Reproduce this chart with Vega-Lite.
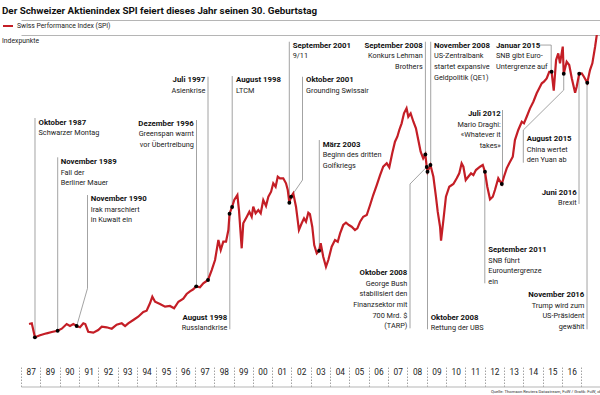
{
  "$schema": "https://vega.github.io/schema/vega-lite/v6.json",
  "width": 579,
  "height": 327.5,
  "autosize": "none",
  "padding": {"left": 21, "top": 35, "right": 0, "bottom": 32.5},
  "background": "white",
  "config": {
    "view": {"stroke": null},
    "font": "Roboto",
    "axis": {"labelFont": "Roboto", "titleFont": "Roboto"},
    "legend": {"labelFont": "Roboto", "titleFont": "Roboto"},
    "title": {"font": "Roboto"},
    "text": {"font": "Roboto"}
  },
  "title": {
    "text": "Der Schweizer Aktienindex SPI feiert dieses Jahr seinen 30. Geburtstag",
    "anchor": "start",
    "frame": "bounds",
    "font": "Roboto",
    "fontSize": 9.8,
    "fontWeight": "bold",
    "color": "#111111",
    "offset": 4.5
  },
  "datasets": {
    "spi": [
      {"t":0.41,"v":1175},{"t":0.55,"v":1197},{"t":0.71,"v":769},{"t":0.97,"v":830},{"t":1.31,"v":891},{"t":1.57,"v":931},{"t":1.87,"v":971},{"t":2.08,"v":1032},{"t":2.33,"v":1175},{"t":2.50,"v":1114},{"t":2.67,"v":1175},{"t":2.84,"v":1114},{"t":3.01,"v":1075},{"t":3.18,"v":1197},{"t":3.28,"v":1175},{"t":3.43,"v":940},{"t":3.69,"v":910},{"t":3.94,"v":992},{"t":4.12,"v":1093},{"t":4.37,"v":1075},{"t":4.63,"v":1032},{"t":4.88,"v":1154},{"t":5.14,"v":1197},{"t":5.31,"v":1114},{"t":5.47,"v":1197},{"t":5.73,"v":1298},{"t":5.98,"v":1398},{"t":6.24,"v":1542},{"t":6.41,"v":1581},{"t":6.58,"v":1807},{"t":6.70,"v":2009},{"t":6.84,"v":1856},{"t":7.09,"v":1786},{"t":7.35,"v":1704},{"t":7.60,"v":1725},{"t":7.81,"v":1655},{"t":8.03,"v":1856},{"t":8.28,"v":1948},{"t":8.45,"v":2091},{"t":8.62,"v":2174},{"t":8.79,"v":2235},{"t":8.94,"v":2326},{"t":9.13,"v":2296},{"t":9.30,"v":2418},{"t":9.54,"v":2519},{"t":9.73,"v":2824},{"t":9.90,"v":3129},{"t":10.07,"v":3740},{"t":10.19,"v":3435},{"t":10.32,"v":3688},{"t":10.46,"v":3688},{"t":10.58,"v":4045},{"t":10.64,"v":4543},{"t":10.77,"v":4748},{"t":10.88,"v":4961},{"t":11.04,"v":5114},{"t":11.12,"v":4656},{"t":11.26,"v":3487},{"t":11.34,"v":4250},{"t":11.52,"v":4451},{"t":11.65,"v":4604},{"t":11.77,"v":4451},{"t":11.85,"v":4757},{"t":11.97,"v":4555},{"t":12.11,"v":4656},{"t":12.23,"v":4555},{"t":12.36,"v":4961},{"t":12.50,"v":4778},{"t":12.62,"v":5062},{"t":12.76,"v":5215},{"t":12.87,"v":5471},{"t":12.99,"v":5367},{"t":13.10,"v":5673},{"t":13.21,"v":5624},{"t":13.38,"v":5624},{"t":13.52,"v":5471},{"t":13.61,"v":5267},{"t":13.69,"v":4879},{"t":13.78,"v":5062},{"t":13.89,"v":5166},{"t":14.03,"v":4757},{"t":14.18,"v":4045},{"t":14.32,"v":4250},{"t":14.44,"v":4402},{"t":14.54,"v":4299},{"t":14.66,"v":4573},{"t":14.74,"v":4534},{"t":14.86,"v":4146},{"t":14.96,"v":3587},{"t":15.09,"v":3334},{"t":15.21,"v":3413},{"t":15.29,"v":3639},{"t":15.42,"v":3230},{"t":15.56,"v":2925},{"t":15.68,"v":3129},{"t":15.85,"v":3535},{"t":16.02,"v":3740},{"t":16.16,"v":3688},{"t":16.28,"v":3944},{"t":16.44,"v":4198},{"t":16.58,"v":4268},{"t":16.73,"v":4198},{"t":16.87,"v":4146},{"t":17.04,"v":4045},{"t":17.16,"v":4097},{"t":17.30,"v":4299},{"t":17.46,"v":4451},{"t":17.64,"v":4503},{"t":17.81,"v":4809},{"t":17.97,"v":5114},{"t":18.15,"v":5419},{"t":18.32,"v":5724},{"t":18.48,"v":5978},{"t":18.66,"v":6082},{"t":18.79,"v":5960},{"t":18.94,"v":6387},{"t":19.08,"v":6741},{"t":19.20,"v":6894},{"t":19.30,"v":7099},{"t":19.42,"v":7303},{"t":19.54,"v":7608},{"t":19.67,"v":7761},{"t":19.76,"v":7504},{"t":19.88,"v":7608},{"t":20.02,"v":7352},{"t":20.15,"v":7150},{"t":20.27,"v":6793},{"t":20.39,"v":6436},{"t":20.52,"v":6234},{"t":20.63,"v":6350},{"t":20.70,"v":5969},{"t":20.74,"v":5825},{"t":20.89,"v":6030},{"t":21.04,"v":5672},{"t":21.17,"v":5062},{"t":21.26,"v":4604},{"t":21.38,"v":4146},{"t":21.43,"v":3719},{"t":21.55,"v":4351},{"t":21.68,"v":5062},{"t":21.85,"v":5367},{"t":22.06,"v":5450},{"t":22.23,"v":5624},{"t":22.36,"v":5776},{"t":22.48,"v":6082},{"t":22.57,"v":5978},{"t":22.69,"v":5572},{"t":22.82,"v":5672},{"t":22.96,"v":5776},{"t":23.08,"v":5724},{"t":23.21,"v":5877},{"t":23.42,"v":5978},{"t":23.56,"v":6030},{"t":23.67,"v":5825},{"t":23.79,"v":5367},{"t":23.93,"v":4983},{"t":24.07,"v":5062},{"t":24.18,"v":5267},{"t":24.35,"v":5624},{"t":24.53,"v":5450},{"t":24.64,"v":5672},{"t":24.78,"v":5929},{"t":24.91,"v":6082},{"t":25.09,"v":6283},{"t":25.20,"v":6793},{"t":25.37,"v":7099},{"t":25.55,"v":7352},{"t":25.66,"v":7303},{"t":25.80,"v":7504},{"t":25.97,"v":7761},{"t":26.14,"v":7962},{"t":26.31,"v":8219},{"t":26.44,"v":8371},{"t":26.57,"v":8524},{"t":26.68,"v":8573},{"t":26.82,"v":8677},{"t":26.95,"v":8878},{"t":27.07,"v":8878},{"t":27.18,"v":8304},{"t":27.30,"v":9235},{"t":27.41,"v":9440},{"t":27.50,"v":9134},{"t":27.64,"v":9647},{"t":27.69,"v":8817},{"t":27.84,"v":9183},{"t":27.97,"v":9083},{"t":28.10,"v":8677},{"t":28.27,"v":8237},{"t":28.35,"v":8420},{"t":28.48,"v":8817},{"t":28.61,"v":8829},{"t":28.72,"v":8725},{"t":28.89,"v":8542},{"t":29.03,"v":8930},{"t":29.15,"v":9135},{"t":29.29,"v":9641},{"t":29.39,"v":10060}
    ],
    "punkte": [
      {"t":0.71,"v":769},{"t":1.87,"v":971},{"t":2.84,"v":1114},{"t":8.94,"v":2326},{"t":9.54,"v":2519},{"t":10.64,"v":4543},{"t":10.77,"v":4748},{"t":13.69,"v":4879},{"t":13.78,"v":5062},{"t":15.21,"v":3413},{"t":20.63,"v":6350},{"t":20.70,"v":5969},{"t":20.74,"v":5825},{"t":20.89,"v":6030},{"t":23.67,"v":5825},{"t":24.53,"v":5450},{"t":27.07,"v":8878},{"t":27.69,"v":8817},{"t":28.48,"v":8817},{"t":28.89,"v":8542}
    ],
    "ereignisse": [
      {"titel":"Oktober 1987","text":"Schwarzer Montag","seite":"L","t":0.893,"v":7352},
      {"titel":"November 1989","text":"Fall der\nBerliner Mauer","seite":"L","t":2.026,"v":6143},
      {"titel":"November 1990","text":"Irak marschiert\nin Kuwait ein","seite":"L","t":3.556,"v":5013},
      {"titel":"Dezember 1996","text":"Greenspan warnt\nvor Übertreibung","seite":"R","t":8.816,"v":7321},
      {"titel":"Juli 1997","text":"Asienkrise","seite":"R","t":9.403,"v":8646},
      {"titel":"August 1998","text":"LTCM","seite":"L","t":10.969,"v":8646},
      {"titel":"August 1998","text":"Russlandkrise","seite":"R","t":10.526,"v":1398},
      {"titel":"September 2001","text":"9/11","seite":"L","t":13.862,"v":9693},
      {"titel":"Oktober 2001","text":"Grounding Swissair","seite":"L","t":14.541,"v":8646},
      {"titel":"März 2003","text":"Beginn des dritten\nGolfkriegs","seite":"L","t":15.393,"v":6671},
      {"titel":"September 2008","text":"Konkurs Lehman\nBrothers","seite":"R","t":20.495,"v":9693},
      {"titel":"November 2008","text":"US-Zentralbank\nstartet expansive\nGeldpolitik (QE1)","seite":"L","t":21.071,"v":9693},
      {"titel":"Oktober 2008","text":"George Bush\nstabilisiert den\nFinanzsektor mit\n700 Mrd. $\n(TARP)","seite":"R","t":19.709,"v":2754},
      {"titel":"Oktober 2008","text":"Rettung der UBS","seite":"L","t":20.903,"v":1398},
      {"titel":"Juli 2012","text":"Mario Draghi:\n«Whatever it\ntakes»","seite":"R","t":24.474,"v":7608},
      {"titel":"September 2011","text":"SNB führt\nEurountergrenze\nein","seite":"L","t":23.842,"v":3456},
      {"titel":"Januar 2015","text":"SNB gibt Euro-\nUntergrenze auf","seite":"L","t":24.235,"v":9693},
      {"titel":"August 2015","text":"China wertet\nden Yuan ab","seite":"L","t":25.801,"v":6845},
      {"titel":"Juni 2016","text":"Brexit","seite":"R","t":28.352,"v":5215},
      {"titel":"November  2016","text":"Trump wird zum\nUS-Präsident\ngewählt","seite":"R","t":28.74,"v":2082}
    ],
    "linien": [
      {"id":1,"o":1,"t":0.714,"v":7465},{"id":1,"o":2,"t":0.714,"v":769},
      {"id":2,"o":1,"t":1.872,"v":6265},{"id":2,"o":2,"t":1.872,"v":971},
      {"id":3,"o":1,"t":3.393,"v":5114},{"id":3,"o":2,"t":3.393,"v":2265},{"id":3,"o":3,"t":2.842,"v":1114},
      {"id":4,"o":1,"t":8.954,"v":7404},{"id":4,"o":2,"t":8.954,"v":2326},
      {"id":5,"o":1,"t":9.541,"v":8725},{"id":5,"o":2,"t":9.541,"v":2519},
      {"id":6,"o":1,"t":10.776,"v":8747},{"id":6,"o":2,"t":10.776,"v":4748},
      {"id":7,"o":1,"t":10.653,"v":4534},{"id":7,"o":2,"t":10.653,"v":1014},
      {"id":8,"o":1,"t":13.689,"v":9794},{"id":8,"o":2,"t":13.689,"v":4879},
      {"id":9,"o":1,"t":14.362,"v":8725},{"id":9,"o":2,"t":14.362,"v":5572},{"id":9,"o":3,"t":13.776,"v":5062},
      {"id":10,"o":1,"t":15.219,"v":6793},{"id":10,"o":2,"t":15.219,"v":3413},
      {"id":11,"o":1,"t":20.633,"v":9794},{"id":11,"o":2,"t":20.633,"v":6350},
      {"id":12,"o":1,"t":20.903,"v":9794},{"id":12,"o":2,"t":20.903,"v":6030},
      {"id":13,"o":1,"t":19.847,"v":1044},{"id":13,"o":2,"t":19.847,"v":5450},{"id":13,"o":3,"t":20.699,"v":5969},
      {"id":14,"o":1,"t":20.74,"v":5825},{"id":14,"o":2,"t":20.74,"v":1014},
      {"id":15,"o":1,"t":24.566,"v":7709},{"id":15,"o":2,"t":24.566,"v":5450},
      {"id":16,"o":1,"t":23.663,"v":5825},{"id":16,"o":2,"t":23.663,"v":2418},
      {"id":17,"o":1,"t":26.311,"v":9693},{"id":17,"o":2,"t":27.05,"v":9693},{"id":17,"o":3,"t":27.05,"v":8878},
      {"id":18,"o":1,"t":25.628,"v":6100},{"id":18,"o":2,"t":25.628,"v":7098},{"id":18,"o":3,"t":27.689,"v":8319},{"id":18,"o":4,"t":27.689,"v":8817},
      {"id":19,"o":1,"t":28.469,"v":8817},{"id":19,"o":2,"t":28.469,"v":4839},
      {"id":20,"o":1,"t":28.878,"v":8542},{"id":20,"o":2,"t":28.878,"v":1014}
    ]
  },
  "resolve": {"axis": {"x": "independent"}},
  "layer": [
    {
      "data": {"name": "linien"},
      "mark": {"type": "line", "stroke": "#8c8c8c", "strokeWidth": 0.8},
      "encoding": {
        "x": {"field": "t", "type": "quantitative", "scale": {"domain": [0, 29.54], "nice": false, "zero": false},
              "axis": {"orient": "top", "offset": 15, "domain": true, "domainColor": "#b5b5b5", "domainWidth": 1, "ticks": false, "labels": false, "grid": false, "title": null}},
        "y": {"field": "v", "type": "quantitative", "axis": null},
        "detail": {"field": "id", "type": "nominal"},
        "order": {"field": "o", "type": "quantitative"}
      }
    },
    {
      "data": {"name": "spi"},
      "mark": {"type": "line", "strokeWidth": 2.2, "clip": true},
      "encoding": {
        "x": {"field": "t", "type": "quantitative",
              "axis": {"orient": "bottom", "offset": 24,
                       "values": [0, 0.98571, 1.97143, 2.95714, 3.94286, 4.92857, 5.91429, 6.9, 7.88571, 8.87143, 9.85714, 10.84286, 11.82857, 12.81429, 13.8, 14.78571, 15.77143, 16.75714, 17.74286, 18.72857, 19.71429, 20.7, 21.68571, 22.67143, 23.65714, 24.64286, 25.62857, 26.61429, 27.6, 28.58571],
                       "labelExpr": "['87','89','90','91','92','93','94','95','96','97','98','99','00','01','02','03','04','05','06','07','08','09','10','11','12','13','14','15','16',''][round(datum.value / 0.98571)]",
                       "labelOffset": 9.66, "labelPadding": 6.5, "labelBaseline": "middle", "labelAlign": "center",
                       "labelFlush": false, "labelOverlap": false, "labelBound": false,
                       "labelFont": "Roboto", "labelFontSize": 8.3, "labelColor": "#1a1a1a",
                       "ticks": true, "tickSize": -21, "tickDash": [1.5, 1.5], "tickColor": "#8a8a8a", "tickWidth": 0.8,
                       "domain": true, "domainColor": "#b5b5b5", "domainWidth": 1, "grid": false,
                       "title": "Quelle: Thomson Reuters Datastream, FuW / Grafik: FuW, ck",
                       "titleFont": "Roboto",
                       "titleAnchor": "end", "titleAlign": "right", "titleX": 580, "titleY": 5, "titleBaseline": "middle",
                       "titleFontSize": 4.2, "titleFontWeight": "normal", "titleColor": "#333333"}},
        "y": {"field": "v", "type": "quantitative", "scale": {"domain": [0, 10000], "nice": false},
              "axis": {"values": [0, 2000, 4000, 6000, 8000], "format": "d", "domain": false, "ticks": false,
                       "grid": true, "gridDash": [1, 2], "gridColor": "#8f8f8f", "gridWidth": 0.8,
                       "labelPadding": 4, "labelFont": "Roboto", "labelFontSize": 7.6, "labelColor": "#1a1a1a",
                       "title": null}},
        "color": {"datum": "Swiss Performance Index (SPI)", "type": "nominal",
                  "scale": {"range": ["#c41e26"]},
                  "legend": {"orient": "none", "legendX": -19, "legendY": -15, "padding": 0,
                             "title": "Indexpunkte", "titleOrient": "bottom", "titleAnchor": "start", "titlePadding": 8,
                             "titleFont": "Roboto", "titleFontSize": 6.8, "titleFontWeight": "normal", "titleColor": "#1a1a1a",
                             "symbolType": "stroke", "symbolStrokeWidth": 2, "symbolSize": 100,
                             "labelFont": "Roboto", "labelFontSize": 6.8, "labelColor": "#1a1a1a", "labelOffset": 3}}
      }
    },
    {
      "data": {"name": "punkte"},
      "mark": {"type": "point", "filled": true, "color": "#000000", "size": 15, "opacity": 1},
      "encoding": {
        "x": {"field": "t", "type": "quantitative",
              "axis": {"orient": "top", "offset": 0, "domain": true, "domainColor": "#b5b5b5", "domainWidth": 1, "ticks": false, "labels": false, "grid": false, "title": null}},
        "y": {"field": "v", "type": "quantitative", "axis": null}
      }
    },
    {
      "data": {"name": "ereignisse"},
      "transform": [{"filter": "datum.seite == 'L'"}],
      "mark": {"type": "text", "align": "left", "baseline": "alphabetic", "dy": 2.9, "font": "Roboto", "fontSize": 7.8, "fontWeight": "bold", "color": "#111111"},
      "encoding": {
        "x": {"field": "t", "type": "quantitative", "axis": null},
        "y": {"field": "v", "type": "quantitative", "axis": null},
        "text": {"field": "titel", "type": "nominal"}
      }
    },
    {
      "data": {"name": "ereignisse"},
      "transform": [{"filter": "datum.seite == 'R'"}],
      "mark": {"type": "text", "align": "right", "baseline": "alphabetic", "dy": 2.9, "font": "Roboto", "fontSize": 7.8, "fontWeight": "bold", "color": "#111111"},
      "encoding": {
        "x": {"field": "t", "type": "quantitative", "axis": null},
        "y": {"field": "v", "type": "quantitative", "axis": null},
        "text": {"field": "titel", "type": "nominal"}
      }
    },
    {
      "data": {"name": "ereignisse"},
      "transform": [{"filter": "datum.seite == 'L'"}],
      "mark": {"type": "text", "align": "left", "baseline": "alphabetic", "dy": 13.4, "font": "Roboto", "fontSize": 7.3, "lineBreak": "\n", "lineHeight": 10.6, "color": "#1a1a1a"},
      "encoding": {
        "x": {"field": "t", "type": "quantitative", "axis": null},
        "y": {"field": "v", "type": "quantitative", "axis": null},
        "text": {"field": "text", "type": "nominal"}
      }
    },
    {
      "data": {"name": "ereignisse"},
      "transform": [{"filter": "datum.seite == 'R'"}],
      "mark": {"type": "text", "align": "right", "baseline": "alphabetic", "dy": 13.4, "font": "Roboto", "fontSize": 7.3, "lineBreak": "\n", "lineHeight": 10.6, "color": "#1a1a1a"},
      "encoding": {
        "x": {"field": "t", "type": "quantitative", "axis": null},
        "y": {"field": "v", "type": "quantitative", "axis": null},
        "text": {"field": "text", "type": "nominal"}
      }
    }
  ]
}
